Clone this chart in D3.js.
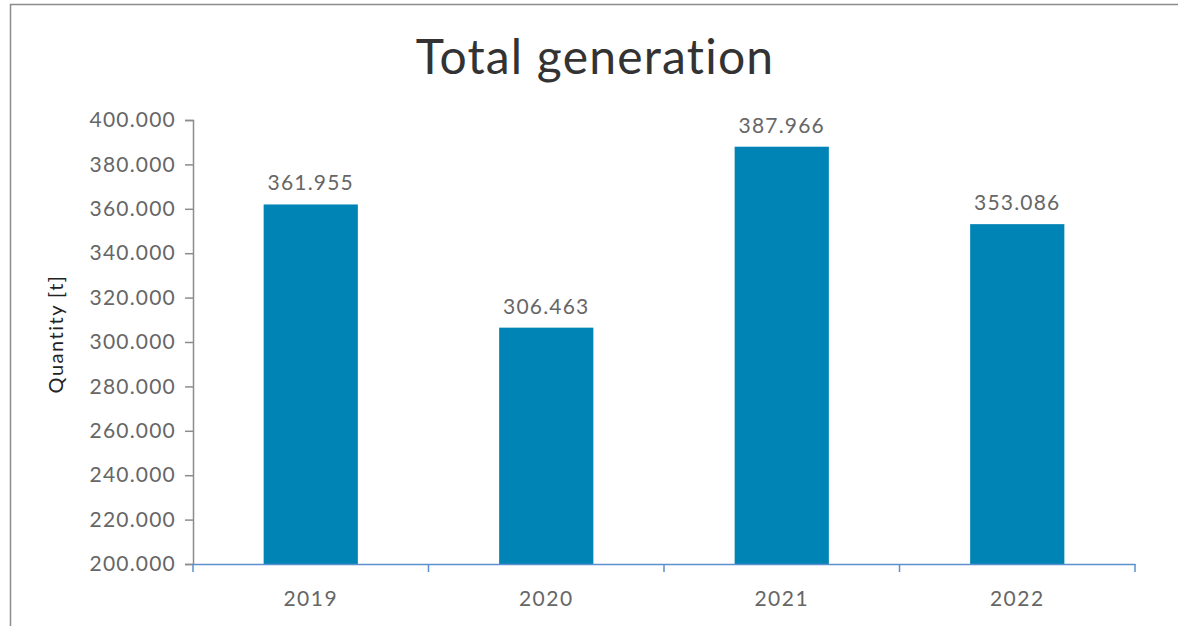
<!DOCTYPE html>
<html>
<head>
<meta charset="utf-8">
<script src="https://cdn.jsdelivr.net/npm/d3@7"></script>
<style>
  html, body { margin: 0; padding: 0; background: #fff; }
  svg { display: block; font-variant-ligatures: none; }
</style>
</head>
<body>
<svg id="chart" width="1178" height="626"></svg>
<script>
// Annual totals, in tonnes
const years = ["2019", "2020", "2021", "2022"];
const quantities = [361955, 306463, 387966, 353086];
const yTicks = [200000, 220000, 240000, 260000, 280000, 300000, 320000, 340000, 360000, 380000, 400000];

const W = 1178, H = 626;
const margin = { left: 193, right: 43, top: 120, bottom: 62 };
const font = "Lato, 'Open Sans', sans-serif";
const textGrey = "#666";

const svg = d3.select("#chart");

// frame around the chart area
svg.append("path")
  .attr("d", `M10.5,${H} V4.5 H${W}`)
  .attr("fill", "none")
  .attr("stroke", "#8c8c8c")
  .attr("stroke-width", 1.5);

const locale = d3.formatLocale({ decimal: ",", thousands: ".", grouping: [3], currency: ["", ""] });
const fmt = locale.format(",d");

const x = d3.scaleBand().domain(years).range([margin.left, W - margin.right]).paddingInner(0).paddingOuter(0);
const y = d3.scaleLinear().domain([200000, 400000]).range([H - margin.bottom, margin.top]);

const rows = years.map((yr, i) => ({ yr, v: quantities[i] }));

// bars
const barW = x.bandwidth() * 0.4;
svg.append("g").selectAll("rect")
  .data(rows)
  .join("rect")
  .attr("x", d => x(d.yr) + (x.bandwidth() - barW) / 2)
  .attr("width", barW)
  .attr("y", d => y(d.v))
  .attr("height", d => y.range()[0] - y(d.v))
  .attr("fill", "#0083b5");

// value labels
svg.append("g").selectAll("text")
  .data(rows)
  .join("text")
  .attr("x", d => x(d.yr) + x.bandwidth() / 2)
  .attr("y", d => y(d.v) - 14)
  .attr("text-anchor", "middle")
  .attr("font-family", font)
  .attr("font-size", 21)
  .attr("letter-spacing", 1.2)
  .attr("fill", textGrey)
  .text(d => fmt(d.v));

// y axis
const yAxis = svg.append("g")
  .attr("transform", `translate(${margin.left},0)`)
  .call(d3.axisLeft(y).tickValues(yTicks).tickFormat(fmt).tickSize(8).tickPadding(9));
yAxis.select(".domain").attr("stroke", "#8c8c8c").attr("stroke-width", 1.5);
yAxis.selectAll(".tick line").attr("stroke", "#8c8c8c").attr("stroke-width", 1.5);
yAxis.selectAll(".tick text")
  .attr("font-family", font).attr("font-size", 21).attr("letter-spacing", 1.2).attr("fill", textGrey);

// x axis
const xBase = y.range()[0];
const xAxis = svg.append("g")
  .attr("transform", `translate(0,${xBase})`)
  .call(d3.axisBottom(x).tickSize(0).tickPadding(27));
xAxis.select(".domain").attr("stroke", "#5b8fd0").attr("stroke-width", 1.5);
xAxis.selectAll(".tick text")
  .attr("font-family", font).attr("font-size", 21).attr("letter-spacing", 1.5).attr("fill", textGrey);
// category separators
const bounds = years.map(yr => x(yr)).concat([x.range()[1]]);
xAxis.append("g").selectAll("line")
  .data(bounds)
  .join("line")
  .attr("x1", d => d).attr("x2", d => d)
  .attr("y1", 0).attr("y2", 8)
  .attr("stroke", "#5b8fd0").attr("stroke-width", 1.5);

// y axis title
svg.append("text")
  .attr("transform", `translate(63,334) rotate(-90)`)
  .attr("text-anchor", "middle")
  .attr("font-family", font)
  .attr("font-size", 20)
  .attr("letter-spacing", 1.5)
  .attr("fill", "#222")
  .text("Quantity [t]");

// chart title
svg.append("text")
  .attr("x", 595)
  .attr("y", 74)
  .attr("text-anchor", "middle")
  .attr("font-family", font)
  .attr("font-size", 48)
  .attr("letter-spacing", 1.2)
  .attr("fill", "#333")
  .text("Total generation");
</script>
</body>
</html>
